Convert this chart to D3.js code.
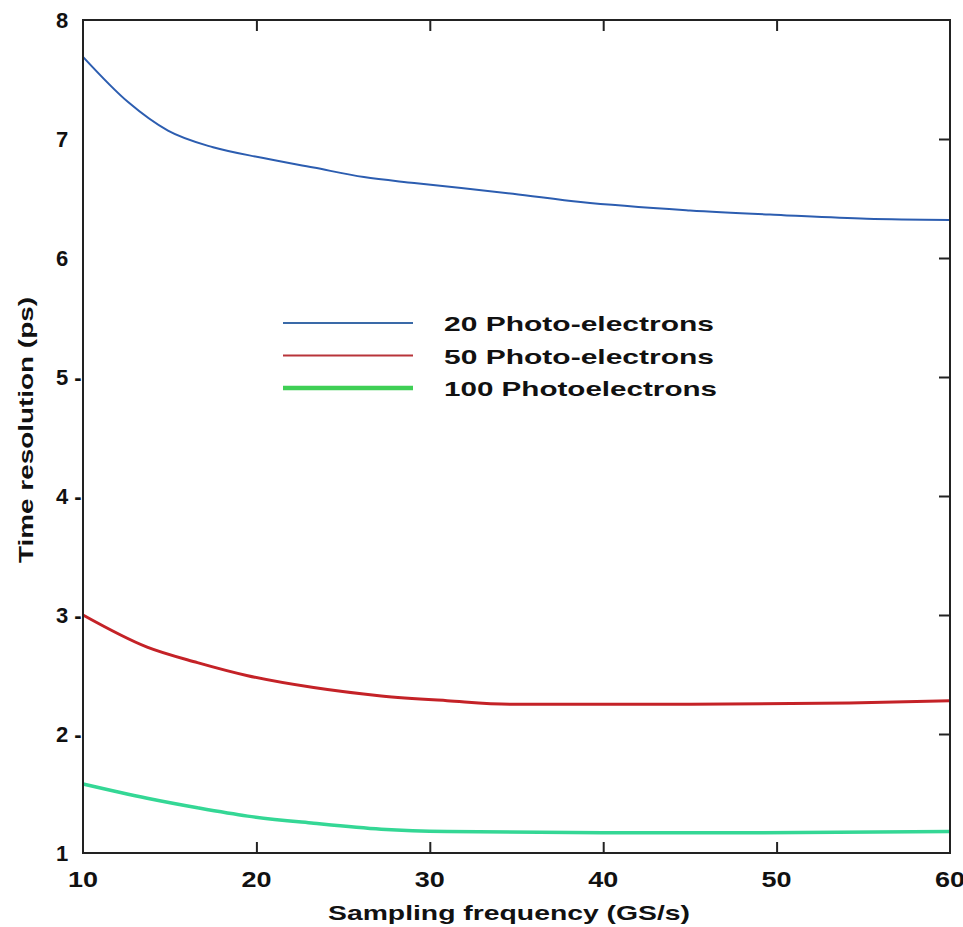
<!DOCTYPE html>
<html>
<head>
<meta charset="utf-8">
<script src="https://cdn.jsdelivr.net/npm/d3@7"></script>
<style>
  body { margin: 0; background: #fff; }
  text { font-family: "Liberation Sans", Arial, sans-serif; font-weight: bold; fill: #111; }
</style>
</head>
<body>
<svg id="chart" width="963" height="927"></svg>
<script>
// sampling frequency (GS/s)
var freqs20  = [10, 12.6, 14.9, 17.5, 20.4, 23.3, 26.2, 29.1, 34.8, 38.7, 45, 50.4, 55.2, 60];
var res20    = [7.69, 7.31, 7.07, 6.93, 6.84, 6.76, 6.68, 6.63, 6.54, 6.47, 6.40, 6.36, 6.33, 6.32];
var freqs50  = [10, 13.7, 16.6, 19.5, 23.3, 27.2, 31, 34.8, 45, 54.2, 60];
var res50    = [3.0, 2.73, 2.60, 2.49, 2.39, 2.32, 2.28, 2.25, 2.25, 2.26, 2.28];
var freqs100 = [10, 13.7, 16.6, 19.5, 23.3, 27.2, 31, 40, 49.2, 60];
var res100   = [1.58, 1.46, 1.38, 1.31, 1.25, 1.20, 1.18, 1.17, 1.17, 1.18];

var seriesNames = ["20 Photo-electrons", "50 Photo-electrons", "100 Photoelectrons"];
var xTicks = [10, 20, 30, 40, 50, 60];
var yTicks = [1, 2, 3, 4, 5, 6, 7, 8];
var yTickLabels = ["1", "2 -", "3 -", "4 -", "5 -", "6", "7", "8"];

var series = [
  {name: seriesNames[0], x: freqs20,  y: res20,  color: "#2c5db0", legend: "#3a6aa8", width: 2},
  {name: seriesNames[1], x: freqs50,  y: res50,  color: "#c42227", legend: "#b8343a", width: 3},
  {name: seriesNames[2], x: freqs100, y: res100, color: "#34d795", legend: "#3fcf55", width: 3.5}
];

var svg = d3.select("#chart");
var x = d3.scaleLinear().domain([10, 60]).range([83, 950]);
var y = d3.scaleLinear().domain([1, 8]).range([853, 20]);

// data lines
var line = d3.line().curve(d3.curveMonotoneX);
series.forEach(function(s) {
  var pts = s.x.map(function(v, i) { return [x(v), y(s.y[i])]; });
  svg.append("path")
     .attr("d", line(pts))
     .attr("fill", "none")
     .attr("stroke", s.color)
     .attr("stroke-width", s.width);
});

// frame
svg.append("rect")
   .attr("x", x(10)).attr("y", y(8))
   .attr("width", x(60) - x(10)).attr("height", y(1) - y(8))
   .attr("fill", "none").attr("stroke", "#222").attr("stroke-width", 2);

// inner ticks
var bottomAxis = d3.axisBottom(x).tickValues([20, 30, 40, 50]).tickSize(-11).tickFormat("");
var topAxis = d3.axisTop(x).tickValues([20, 30, 40, 50]).tickSize(-11).tickFormat("");
var rightAxis = d3.axisRight(y).tickValues([2, 3, 4, 5, 6, 7]).tickSize(-11).tickFormat("");
[[bottomAxis, "translate(0," + y(1) + ")"], [topAxis, "translate(0," + y(8) + ")"],
 [rightAxis, "translate(" + x(60) + ",0)"]].forEach(function(a) {
  var g = svg.append("g").attr("transform", a[1]).call(a[0]);
  g.select(".domain").remove();
  g.selectAll(".tick line").attr("stroke", "#222").attr("stroke-width", 2);
});

// tick labels
svg.selectAll(".xlab").data(xTicks).enter().append("text")
   .attr("class", "xlab")
   .attr("x", function(d) { return x(d); })
   .attr("y", 887)
   .attr("text-anchor", "middle")
   .attr("font-size", 22)
   .attr("textLength", 30)
   .attr("lengthAdjust", "spacingAndGlyphs")
   .text(function(d) { return d; });

svg.selectAll(".ylab").data(yTicks).enter().append("text")
   .attr("class", "ylab")
   .attr("x", 56)
   .attr("y", function(d) { return y(d) + 8; })
   .attr("font-size", 22)
   .text(function(d, i) { return yTickLabels[i]; });

// axis titles
svg.append("text")
   .attr("x", 509).attr("y", 920)
   .attr("text-anchor", "middle")
   .attr("font-size", 21)
   .attr("textLength", 362)
   .attr("lengthAdjust", "spacingAndGlyphs")
   .text("Sampling frequency (GS/s)");

svg.append("text")
   .attr("transform", "translate(33,430) rotate(-90)")
   .attr("text-anchor", "middle")
   .attr("font-size", 21)
   .attr("textLength", 266)
   .attr("lengthAdjust", "spacingAndGlyphs")
   .text("Time resolution (ps)");

// legend
var legend = svg.append("g");
series.forEach(function(s, i) {
  var ly = 323 + i * 32.5;
  legend.append("line")
        .attr("x1", 283).attr("x2", 413)
        .attr("y1", ly).attr("y2", ly)
        .attr("stroke", s.legend)
        .attr("stroke-width", i == 2 ? 4.5 : 2);
  legend.append("text")
        .attr("x", 444).attr("y", ly + 8)
        .attr("font-size", 21)
        .attr("textLength", i == 2 ? 273 : 270)
        .attr("lengthAdjust", "spacingAndGlyphs")
        .text(s.name);
});
</script>
</body>
</html>
